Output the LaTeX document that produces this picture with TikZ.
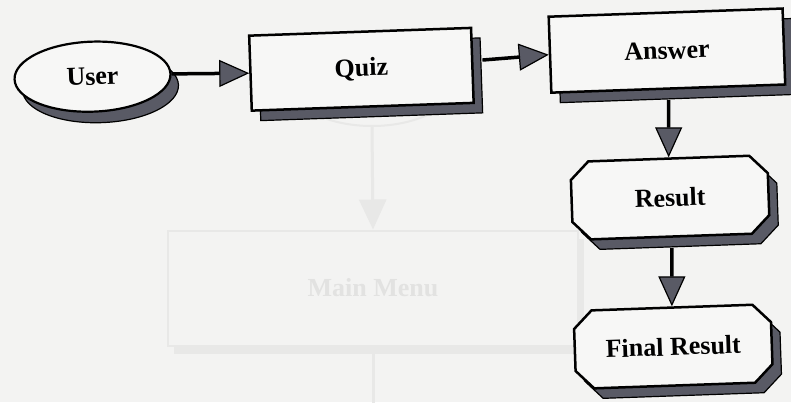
\documentclass[tikz,border=0pt]{standalone}
\usepackage{fontspec}
\setmainfont{Liberation Serif}
\usetikzlibrary{shapes.geometric,shapes.misc,arrows.meta,shadows}
\definecolor{paper}{HTML}{F3F3F2}
\definecolor{boxfill}{HTML}{F7F7F6}
\definecolor{shade}{HTML}{595A65}
\definecolor{ghost}{HTML}{E8E8E7}
\definecolor{ghosttext}{HTML}{E2E2E1}
\begin{document}
\begin{tikzpicture}[x=1pt,y=1pt,
  boxtext/.style={font=\fontsize{26}{30}\selectfont\bfseries, text=black, inner sep=0pt},
  dropshade/.style={general shadow={shadow xshift=9pt, shadow yshift=-10pt,
      fill=shade, draw=black, line width=1.2pt}},
  procbox/.style={rectangle, boxtext, draw=black, line width=2.5pt, fill=boxfill, dropshade},
  termbox/.style={ellipse, boxtext, draw=black, line width=2.2pt, fill=boxfill,
      minimum width=156pt, minimum height=70pt,
      general shadow={shadow xshift=8pt, shadow yshift=-11pt, fill=shade, draw=black, line width=1.2pt}},
  chambox/.style={chamfered rectangle, chamfered rectangle xsep=9pt, chamfered rectangle ysep=9pt,
      boxtext, draw=black, line width=2.5pt, fill=boxfill, dropshade,
      minimum width=197pt, minimum height=78pt},
  conn/.style={draw=black, line width=3.5pt,
      -{Triangle[length=30pt, width=27pt, fill=shade, line width=1.2pt]}},
  ghostbox/.style={draw=ghost, line width=2pt, text=ghosttext, fill=paper,
      font=\fontsize{26}{30}\selectfont\bfseries},
  ghostconn/.style={draw=ghost, line width=3pt, -{Triangle[length=30pt, width=27pt, fill=ghost]}}
]
% paper
\useasboundingbox (0,0) rectangle (791,402);
\clip (0,0) rectangle (791,402);
\fill[paper] (0,0) rectangle (791,402);

% faint print-through from the facing page
\node[ghostbox, ellipse, minimum width=170pt, minimum height=92pt] (gstart) at (372,322) {};
\node[ghostbox, rectangle, minimum width=410pt, minimum height=115pt,
      general shadow={shadow xshift=6pt, shadow yshift=-8pt, fill=ghost}] (gmenu) at (373,114) {Main Menu};
\coordinate (gout) at (373,-5);
\draw[ghostconn] (gstart.south) -- (gmenu.north);
\draw[draw=ghost, line width=3pt] (gmenu.south) -- (gout);

% flowchart
\begin{scope}[rotate around={2:(400,202)}, transform shape]
  \node[termbox] (user) at (97,336) {User};
  \node[procbox, minimum width=222pt, minimum height=75pt] (quiz) at (366,334) {Quiz};
  \node[procbox, minimum width=234pt, minimum height=76pt] (answer) at (672,342) {Answer};
  \node[chambox] (result) at (670,195) {Result};
  \node[chambox] (final) at (668,46) {Final Result};

  \draw[conn] (user.east) -- (quiz.west);
  \draw[conn] ([xshift=9pt,yshift=5pt]quiz.east) -- (answer.west);
  \draw[conn] ([yshift=-10pt]answer.south) -- (result.north);
  \draw[conn] ([yshift=-10pt]result.south) -- (final.north);
\end{scope}
\end{tikzpicture}
\end{document}
